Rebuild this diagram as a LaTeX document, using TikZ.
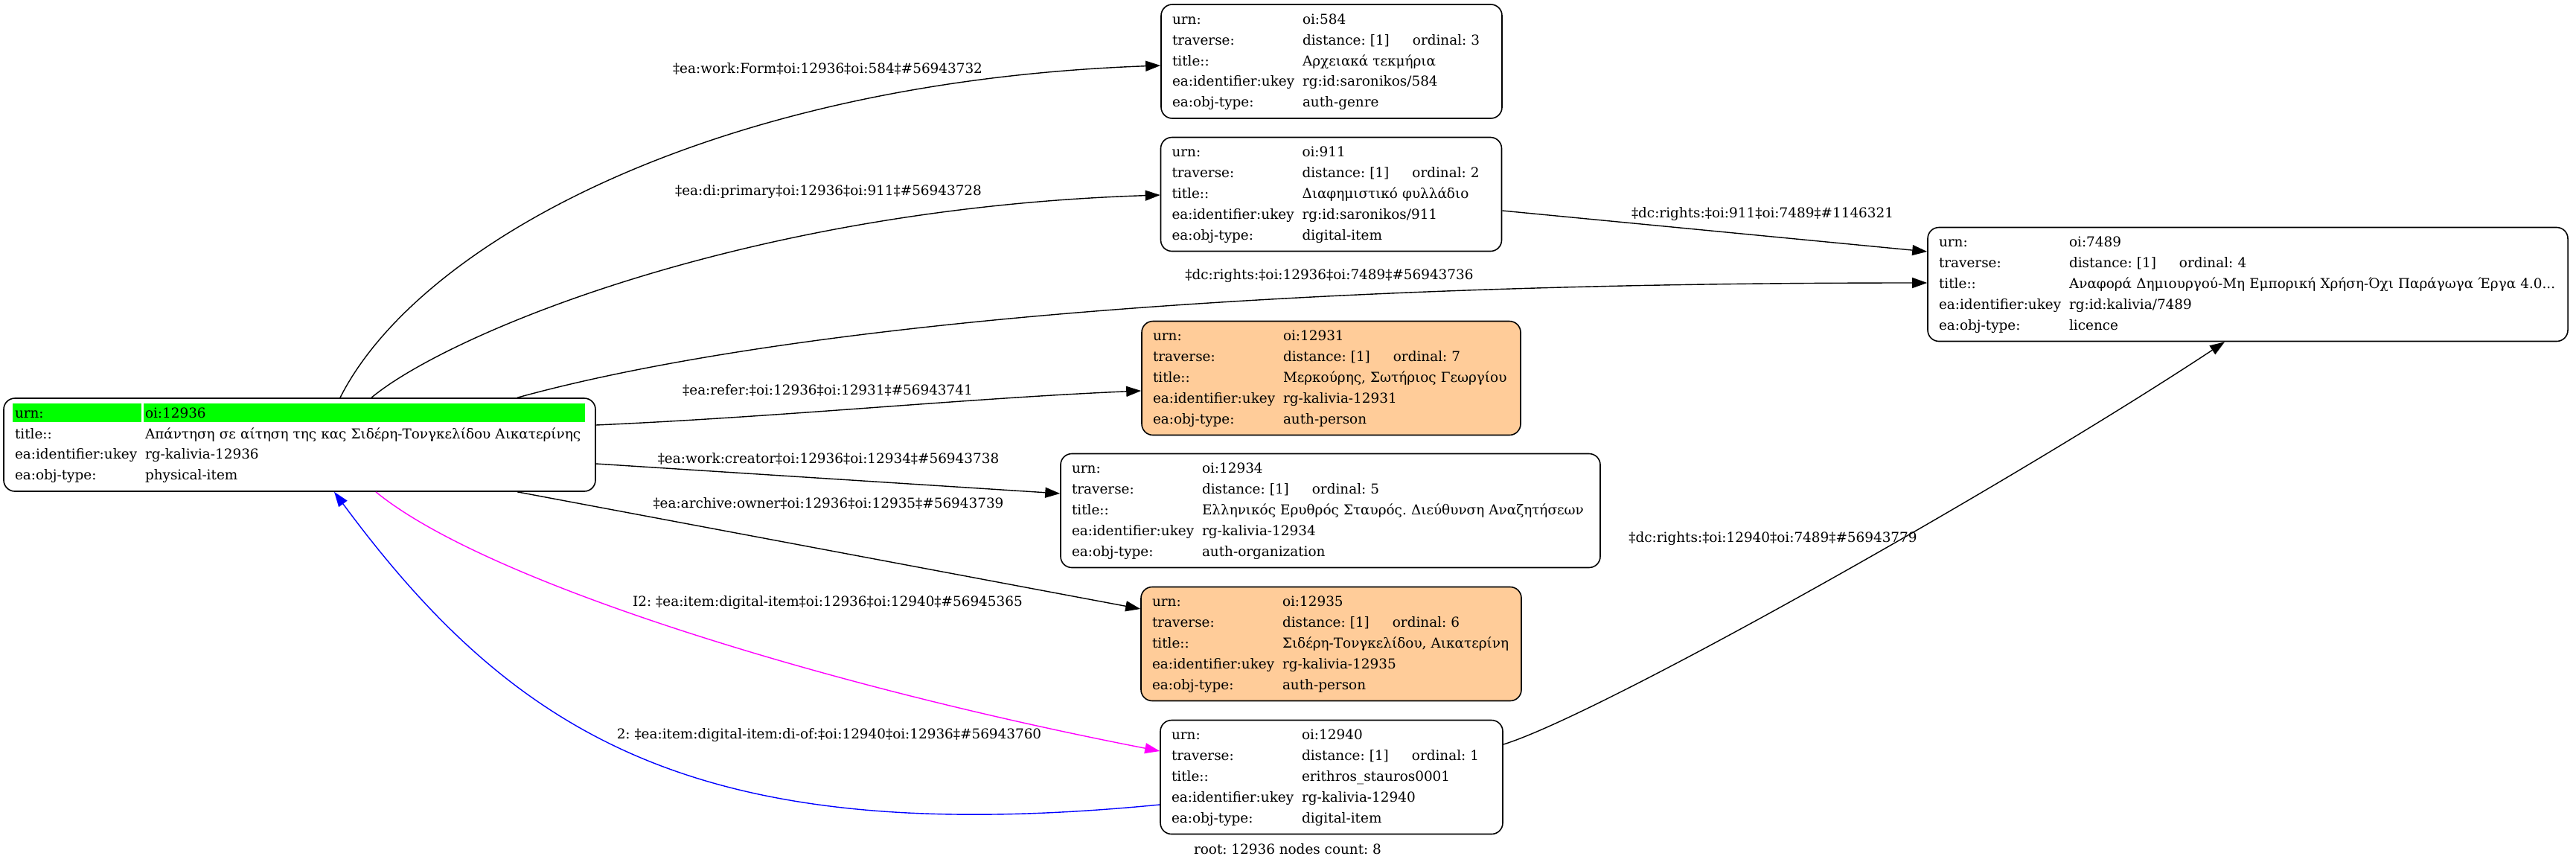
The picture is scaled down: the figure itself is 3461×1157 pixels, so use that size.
\documentclass[tikz,border=0pt]{standalone}
\usepackage{fontspec}
\setmainfont{DejaVu Serif}
\usetikzlibrary{arrows.meta,calc,backgrounds}
\frenchspacing
\definecolor{peach}{HTML}{FFCC99}
\definecolor{cellgreen}{HTML}{00FF00}
\definecolor{edgemagenta}{HTML}{FF00FF}
\definecolor{edgeblue}{HTML}{0000FF}
\newcommand\fiverows[5]{\noindent\begin{tabular}{@{}p{87.5pt}@{}l@{}}urn: & #1\\ traverse: & distance: [1]\hspace{15.5pt}ordinal: #2\\ title:: & #3\\ ea:identifier:ukey & #4\\ ea:obj-type: & #5\end{tabular}}
\tikzset{
  recbox/.style={draw, line width=0.8pt, rounded corners=7.5pt, align=left, inner xsep=7.5pt, inner ysep=0pt, minimum height=76.5pt},
  edge/.style={line width=0.7pt, -{Triangle[length=10pt,width=7pt]}},
  elabel/.style={inner sep=0pt}
}
\begin{document}
\begin{tikzpicture}[x=0.5pt,y=-0.5pt,font=\fontsize{9.2pt}{13.9pt}\selectfont\frenchspacing]
\useasboundingbox (0,0) rectangle (3461,1157);
% nodes
\node[recbox, minimum height=62.5pt, text width=382.5pt] (root) at (402.5,597.5)
 {\noindent\begin{tabular}{@{}p{87.5pt}@{}l@{}}urn: & oi:12936\\ title:: & Απάντηση σε αίτηση της κας Σιδέρη-Τονγκελίδου Αικατερίνης\\ ea:identifier:ukey & rg-kalivia-12936\\ ea:obj-type: & physical-item\end{tabular}};
\begin{pgfonlayer}{background}
\fill[cellgreen] ($(root.north west)+(13,8)$) rectangle ($(root.north west)+(186,33)$);
\fill[cellgreen] ($(root.north west)+(188.5,8)$) rectangle ($(root.north west)+(782,33)$);
\end{pgfonlayer}
\node[recbox, text width=214pt] (n584) at (1789,82.5)
 {\fiverows{oi:584}{3}{Αρχειακά τεκμήρια}{rg:id:saronikos/584}{auth-genre}};
\node[recbox, text width=214pt] (n911) at (1788.5,261)
 {\fiverows{oi:911}{2}{Διαφημιστικό φυλλάδιο}{rg:id:saronikos/911}{digital-item}};
\node[recbox, text width=415pt] (n7489) at (3020,382)
 {\fiverows{oi:7489}{4}{Αναφορά Δημιουργού-Μη Εμπορική Χρήση-Όχι Παράγωγα Έργα 4.0...}{rg:id:kalivia/7489}{licence}};
\node[recbox, fill=peach, text width=239.5pt] (n12931) at (1788.5,508)
 {\fiverows{oi:12931}{7}{Μερκούρης, Σωτήριος Γεωργίου}{rg-kalivia-12931}{auth-person}};
\node[recbox, text width=347.5pt] (n12934) at (1787.5,686)
 {\fiverows{oi:12934}{5}{Ελληνικός Ερυθρός Σταυρός. Διεύθυνση Αναζητήσεων}{rg-kalivia-12934}{auth-organization}};
\node[recbox, fill=peach, text width=240.5pt] (n12935) at (1788.5,865)
 {\fiverows{oi:12935}{6}{Σιδέρη-Τονγκελίδου, Αικατερίνη}{rg-kalivia-12935}{auth-person}};
\node[recbox, text width=215pt] (n12940) at (1789,1044)
 {\fiverows{oi:12940}{1}{erithros\_stauros0001}{rg-kalivia-12940}{digital-item}};
\node[inner sep=0pt] (caption) at (1730,1141) {root: 12936 nodes count: 8};
% edges
\draw[edge] (457,0 |- root.north) .. controls (560,330) and (950,110) .. (n584.west |- 0,88);
\node[elabel] (l1) at (1112,92) {‡ea:work:Form‡oi:12936‡oi:584‡\#56943732};
\draw[edge] (499,0 |- root.north) .. controls (600,450) and (1000,280) .. (n911.west |- 0,262);
\node[elabel] (l2) at (1113,258) {‡ea:di:primary‡oi:12936‡oi:911‡\#56943728};
\draw[edge] (695,0 |- root.north) .. controls (1000,450) and (1600,380) .. (n7489.west |- 0,380);
\node[elabel] (l3) at (1786,371) {‡dc:rights:‡oi:12936‡oi:7489‡\#56943736};
\draw[edge] (root.east |- 0,571) .. controls (1050,560) and (1300,535) .. (n12931.west |- 0,525);
\node[elabel] (l4) at (1112,524) {‡ea:refer:‡oi:12936‡oi:12931‡\#56943741};
\draw[edge] (root.east |- 0,623) -- (n12934.west |- 0,663);
\node[elabel] (l5) at (1113,616) {‡ea:work:creator‡oi:12936‡oi:12934‡\#56943738};
\draw[edge] (695,0 |- root.south) -- (n12935.west |- 0,818);
\node[elabel] (l6) at (1113,676) {‡ea:archive:owner‡oi:12936‡oi:12935‡\#56943739};
\draw[edge, edgemagenta] (505,0 |- root.south) .. controls (650,780) and (1100,920) .. (n12940.west |- 0,1009);
\node[elabel] (l7) at (1112,810) {I2: ‡ea:item:digital-item‡oi:12936‡oi:12940‡\#56945365};
\draw[edge, edgeblue] (n12940.west |- 0,1081) .. controls (950,1140) and (700,1000) .. (449,0 |- root.south);
\node[elabel] (l8) at (1114,988) {2: ‡ea:item:digital-item:di-of:‡oi:12940‡oi:12936‡\#56943760};
\draw[edge] (n911.east |- 0,283) -- (n7489.west |- 0,338);
\node[elabel] (l9) at (2368,288) {‡dc:rights:‡oi:911‡oi:7489‡\#1146321};
\draw[edge] (n12940.east |- 0,1000) .. controls (2150,960) and (2700,650) .. (2989,0 |- n7489.south);
\node[elabel] (l10) at (2382,724) {‡dc:rights:‡oi:12940‡oi:7489‡\#56943779};
\end{tikzpicture}
\end{document}
